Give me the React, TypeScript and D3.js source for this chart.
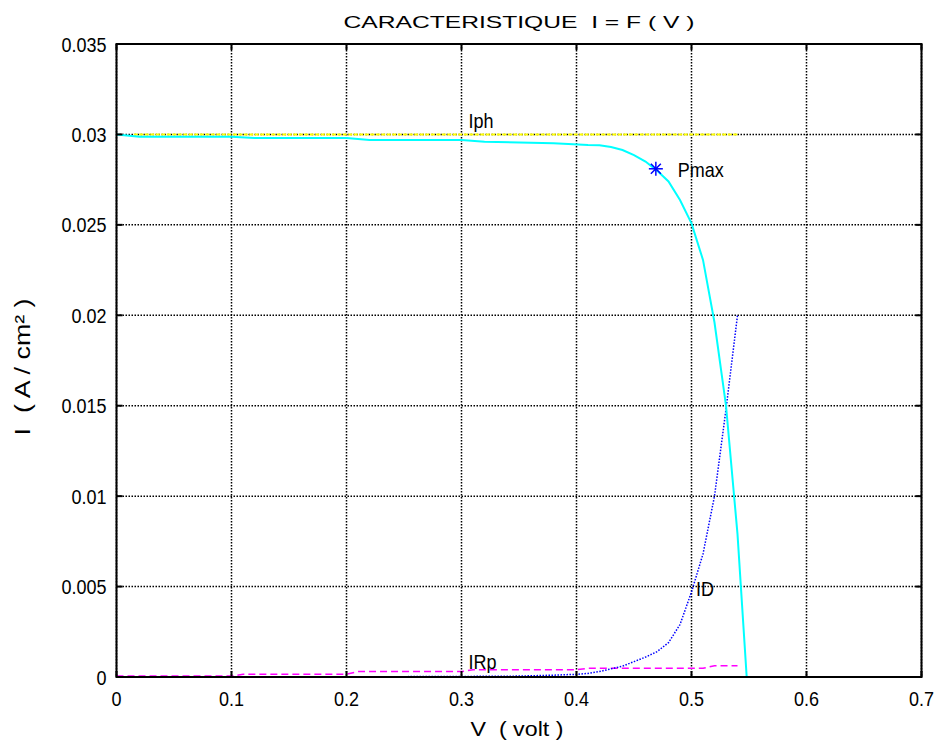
import React from "react";
import { scaleLinear, line } from "d3";

// courbe I = f(V)
const voltage = [0, 0.02, 0.1, 0.12, 0.2, 0.22, 0.3, 0.32, 0.38, 0.41, 0.42, 0.43, 0.44, 0.45, 0.46, 0.47, 0.48, 0.49, 0.5, 0.51, 0.52, 0.53, 0.54, 0.548];
const current = [0.03, 0.02987, 0.02987, 0.0298, 0.0298, 0.02969, 0.02969, 0.0296, 0.02951, 0.02941, 0.0294, 0.0293, 0.02914, 0.02886, 0.0285, 0.028, 0.0274, 0.02637, 0.02508, 0.02306, 0.0196, 0.015, 0.0079, 0];

// photocourant
const iphV = [0.015, 0.54];
const iphI = [0.03, 0.03];

// courant de diode
const idV = [0, 0.1, 0.2, 0.3, 0.35, 0.38, 0.4, 0.41, 0.42, 0.43, 0.44, 0.45, 0.46, 0.47, 0.48, 0.49, 0.5, 0.51, 0.52, 0.53, 0.54];
const idI = [0, 0, 0.00001, 0.00003, 0.00005, 0.0001, 0.00015, 0.0002, 0.0003, 0.00045, 0.0006, 0.00085, 0.0011, 0.0014, 0.0019, 0.0029, 0.0047, 0.0068, 0.01, 0.0148, 0.02];

// courant dans Rp
const irpV = [0, 0.1, 0.11, 0.2, 0.21, 0.3, 0.31, 0.4, 0.41, 0.51, 0.52, 0.54];
const irpI = [0.00005, 0.00005, 0.00015, 0.00015, 0.0003, 0.0003, 0.0004, 0.0004, 0.00048, 0.00048, 0.00062, 0.00062];

const pmax = { v: 0.469, i: 0.0281 };

const xTicks = [0, 0.1, 0.2, 0.3, 0.4, 0.5, 0.6, 0.7];
const yTicks = [0, 0.005, 0.01, 0.015, 0.02, 0.025, 0.03, 0.035];

// texte legerement etire en hauteur comme sur la figure d'origine
function Txt({ x, y, anchor = "start", size = 18, children }: any) {
  return (
    <text transform={`translate(${x},${y}) scale(1,1.15)`} textAnchor={anchor} fontSize={size}>
      {children}
    </text>
  );
}

export default function App() {
  const width = 940;
  const height = 747;
  const margin = { top: 44, left: 116.5, right: 18.5, bottom: 70 };
  const innerWidth = width - margin.left - margin.right;
  const innerHeight = height - margin.top - margin.bottom;

  const xScale = scaleLinear().domain([0, 0.7]).range([0, innerWidth]);
  const yScale = scaleLinear().domain([0, 0.035]).range([innerHeight, 0]);

  const path = (vs: number[], is: number[]) =>
    line<number>()
      .x((d, k) => xScale(vs[k]))
      .y((d) => yScale(d))(is) || "";

  const font = "Liberation Sans, Arial, sans-serif";
  const px = xScale(pmax.v);
  const py = yScale(pmax.i);

  return (
    <svg
      width={width}
      height={height}
      style={{ position: "absolute", left: 0, top: 0, background: "#fff" }}
      fontFamily={font}
    >
      <text
        x={margin.left + innerWidth / 2}
        y={28}
        textAnchor="middle"
        fontSize={17}
        textLength={351}
        lengthAdjust="spacingAndGlyphs"
      >
        CARACTERISTIQUE{"\u00a0\u00a0"}I = F ( V )
      </text>
      <g transform={`translate(${margin.left},${margin.top})`}>
        <defs>
          <clipPath id="plot">
            <rect x={0} y={0} width={innerWidth} height={innerHeight} />
          </clipPath>
        </defs>
        {/* grille */}
        {xTicks.map((t, i) => (
          <line
            key={"gx" + i}
            x1={xScale(t)}
            x2={xScale(t)}
            y1={0}
            y2={innerHeight}
            stroke="#000"
            strokeWidth={1.5}
            strokeDasharray="1.5,1.5"
          />
        ))}
        {yTicks.map((t, i) => (
          <line
            key={"gy" + i}
            x1={0}
            x2={innerWidth}
            y1={yScale(t)}
            y2={yScale(t)}
            stroke="#000"
            strokeWidth={1.5}
            strokeDasharray="1.5,1.5"
          />
        ))}
        {/* courbes */}
        <g clipPath="url(#plot)" fill="none">
          <path d={path(iphV, iphI)} stroke="#ffff00" strokeWidth={2} strokeDasharray="4,1.5" />
          <path d={path(irpV, irpI)} stroke="#ff00ff" strokeWidth={1.5} strokeDasharray="7,4" />
          <path d={path(idV, idI)} stroke="#0000ff" strokeWidth={1.5} strokeDasharray="1.5,1.5" />
          <path d={path(voltage, current)} stroke="#00ffff" strokeWidth={2} />
        </g>
        {/* Pmax */}
        <g stroke="#0000ff" strokeWidth={1.5} transform={`translate(${px},${py})`}>
          <line x1={0} x2={0} y1={-7} y2={7} />
          <line x1={-7} x2={7} y1={0} y2={0} />
          <line x1={-5} x2={5} y1={-5} y2={5} />
          <line x1={-5} x2={5} y1={5} y2={-5} />
        </g>
        {/* cadre */}
        <rect x={0} y={0} width={innerWidth} height={innerHeight} fill="none" stroke="#000" strokeWidth={2} />
        {xTicks.map((t, i) => (
          <g key={"tx" + i}>
            <line x1={xScale(t)} x2={xScale(t)} y1={innerHeight} y2={innerHeight - 6} stroke="#000" strokeWidth={2} />
            <line x1={xScale(t)} x2={xScale(t)} y1={0} y2={6} stroke="#000" strokeWidth={2} />
            <Txt x={xScale(t)} y={innerHeight + 29} anchor="middle">
              {t}
            </Txt>
          </g>
        ))}
        {yTicks.map((t, i) => (
          <g key={"ty" + i}>
            <line x1={0} x2={6} y1={yScale(t)} y2={yScale(t)} stroke="#000" strokeWidth={2} />
            <line x1={innerWidth} x2={innerWidth - 6} y1={yScale(t)} y2={yScale(t)} stroke="#000" strokeWidth={2} />
            <Txt x={-10} y={yScale(t) + 7.5} anchor="end">
              {t}
            </Txt>
          </g>
        ))}
        {/* etiquettes */}
        <Txt x={xScale(0.306)} y={yScale(0.03) - 6}>Iph</Txt>
        <Txt x={px + 22} y={py + 8}>Pmax</Txt>
        <Txt x={xScale(0.504)} y={yScale(0.0049) + 7.5}>ID</Txt>
        <Txt x={xScale(0.306)} y={yScale(0.00085) + 7.5}>IRp</Txt>
      </g>
      <text
        x={517}
        y={height - 11}
        textAnchor="middle"
        fontSize={21}
        textLength={93}
        lengthAdjust="spacingAndGlyphs"
      >
        V{"\u00a0\u00a0"}( volt )
      </text>
      <text
        transform={`translate(30,367) rotate(-90)`}
        textAnchor="middle"
        fontSize={22}
        textLength={137}
        lengthAdjust="spacingAndGlyphs"
      >
        I{"\u00a0\u00a0"}( A / cm² )
      </text>
    </svg>
  );
}
